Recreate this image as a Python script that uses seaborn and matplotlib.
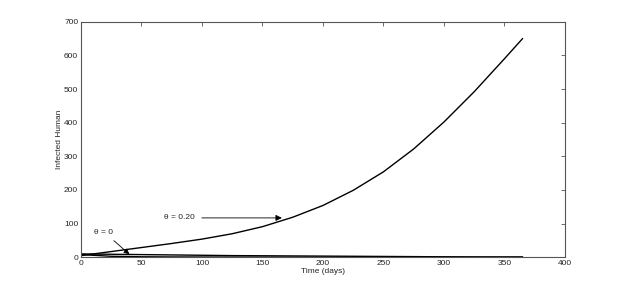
import matplotlib
matplotlib.use('Agg')
import matplotlib.pyplot as plt
import pandas as pd
import seaborn as sns

# values
days = [0, 25, 50, 75, 100, 125, 150, 175, 200, 225, 250, 275, 300, 325, 350, 365]
infected_theta_020 = [5, 17, 29, 41, 54, 70, 91, 119, 154, 199, 254, 322, 402, 492, 590, 650]
infected_theta_0 = [10, 9, 8, 7, 6, 5, 4.5, 4, 3.5, 3, 2.5, 2, 1.5, 1.2, 1, 1]
infected_low = [8, 3, 1.5, 1, 0.8, 0.6, 0.5, 0.4, 0.3, 0.3, 0.2, 0.2, 0.2, 0.1, 0.1, 0.1]

sns.set_style('white')
plt.rcParams['font.family'] = ['Liberation Sans', 'DejaVu Sans']
plt.rcParams['xtick.direction'] = 'in'
plt.rcParams['ytick.direction'] = 'in'

df = pd.DataFrame({'Time': days * 3,
                   'Infected': infected_theta_020 + infected_theta_0 + infected_low,
                   'theta': ['0.20'] * len(days) + ['0'] * len(days) + ['low'] * len(days)})

fig = plt.figure(figsize=(6.24, 2.9), dpi=100)
ax = fig.add_axes([0.1298, 0.1128, 0.7756, 0.8124])
sns.lineplot(ax=ax, data=df, x='Time', y='Infected', hue='theta',
             palette={'0.20': 'black', '0': 'black', 'low': 'black'},
             legend=False, linewidth=1.0)

ax.set_xlim(0, 400)
ax.set_ylim(0, 700)
ax.set_xticks(range(0, 401, 50))
ax.set_yticks(range(0, 701, 100))
ax.set_xlabel('Time (days)', fontsize=6, labelpad=1)
ax.set_ylabel('Infected Human', fontsize=6, labelpad=1)
ax.tick_params(axis='both', labelsize=6, length=3, width=0.6, color='#555555',
               top=True, right=True, pad=2)
for s in ax.spines.values():
    s.set_color('#555555')
    s.set_linewidth(0.8)

ax.annotate('θ = 0.20', xy=(166, 117), xytext=(81, 117), fontsize=6,
            ha='center', va='center',
            arrowprops=dict(arrowstyle='-|>', color='black', lw=0.6,
                            mutation_scale=9, shrinkA=3, shrinkB=0))
ax.annotate('θ = 0', xy=(40, 9), xytext=(19, 75), fontsize=6,
            ha='center', va='center',
            arrowprops=dict(arrowstyle='-|>', color='black', lw=0.6,
                            mutation_scale=8, shrinkA=2, shrinkB=0))

fig.savefig('out.png', dpi=100)
